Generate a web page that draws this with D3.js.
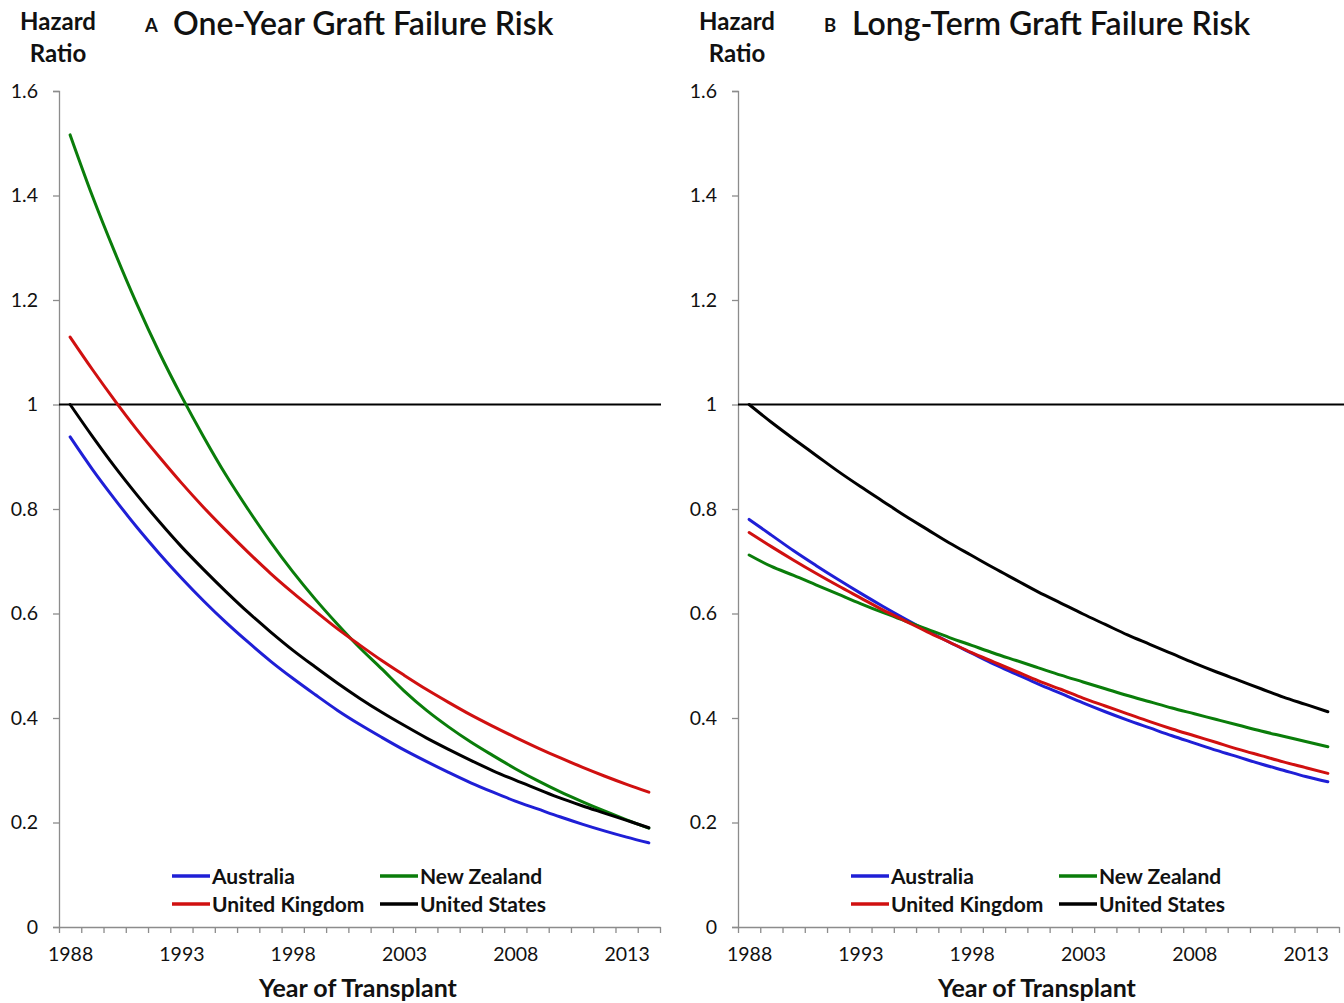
<!DOCTYPE html>
<html>
<head>
<meta charset="utf-8">
<script src="https://cdn.jsdelivr.net/npm/d3@7/dist/d3.min.js"></script>
<style>
  html, body { margin: 0; padding: 0; background: #fff; }
  svg { display: block; font-family: Lato, "Open Sans", sans-serif; }
</style>
</head>
<body>
<svg id="chart" width="1344" height="1003"></svg>
<script>
// ---------- data ----------
const years = d3.range(1988, 2015);
const yearLabels = [1988, 1993, 1998, 2003, 2008, 2013];
const yTicks = [0, 0.2, 0.4, 0.6, 0.8, 1, 1.2, 1.4, 1.6];
const countries = ["Australia", "New Zealand", "United Kingdom", "United States"];
const colors = ["#1f1fd6", "#0a7d0a", "#d01010", "#000000"];

// Panel A: one-year graft failure risk (hazard ratio)
const oneYearAustralia = [0.938, 0.876, 0.819, 0.765, 0.715, 0.668, 0.624, 0.583, 0.545, 0.509, 0.476, 0.445, 0.415, 0.388, 0.363, 0.339, 0.317, 0.296, 0.276, 0.258, 0.241, 0.226, 0.211, 0.197, 0.184, 0.172, 0.161];
const oneYearNewZealand = [1.516, 1.399, 1.292, 1.192, 1.100, 1.016, 0.938, 0.865, 0.799, 0.737, 0.680, 0.628, 0.580, 0.535, 0.494, 0.452, 0.415, 0.383, 0.354, 0.328, 0.303, 0.280, 0.259, 0.240, 0.222, 0.205, 0.189];
const oneYearUK = [1.129, 1.067, 1.008, 0.952, 0.900, 0.850, 0.803, 0.759, 0.717, 0.677, 0.640, 0.605, 0.571, 0.540, 0.510, 0.482, 0.455, 0.430, 0.406, 0.384, 0.363, 0.343, 0.324, 0.306, 0.289, 0.273, 0.258];
const oneYearUS = [1.000, 0.939, 0.881, 0.827, 0.776, 0.728, 0.684, 0.642, 0.602, 0.565, 0.530, 0.498, 0.467, 0.438, 0.411, 0.386, 0.362, 0.340, 0.319, 0.299, 0.281, 0.264, 0.247, 0.232, 0.218, 0.204, 0.190];

// Panel B: long-term graft failure risk (hazard ratio)
const longTermAustralia = [0.780, 0.750, 0.720, 0.692, 0.665, 0.639, 0.614, 0.590, 0.567, 0.545, 0.524, 0.503, 0.484, 0.465, 0.447, 0.429, 0.412, 0.396, 0.381, 0.366, 0.352, 0.338, 0.325, 0.312, 0.300, 0.288, 0.278];
const longTermNewZealand = [0.712, 0.690, 0.673, 0.655, 0.637, 0.619, 0.602, 0.586, 0.570, 0.554, 0.539, 0.524, 0.510, 0.496, 0.482, 0.469, 0.456, 0.443, 0.431, 0.419, 0.408, 0.397, 0.386, 0.375, 0.365, 0.355, 0.345];
const longTermUK = [0.755, 0.728, 0.702, 0.677, 0.653, 0.630, 0.607, 0.586, 0.565, 0.545, 0.525, 0.507, 0.489, 0.471, 0.455, 0.438, 0.423, 0.408, 0.393, 0.379, 0.366, 0.353, 0.340, 0.328, 0.316, 0.305, 0.294];
const longTermUS = [1.000, 0.966, 0.934, 0.903, 0.872, 0.843, 0.815, 0.787, 0.761, 0.735, 0.711, 0.687, 0.664, 0.641, 0.620, 0.599, 0.579, 0.559, 0.541, 0.523, 0.505, 0.488, 0.472, 0.456, 0.440, 0.426, 0.412];

const panels = [
  { letter: "A", title: "One-Year Graft Failure Risk", left: 59, series: [oneYearAustralia, oneYearNewZealand, oneYearUK, oneYearUS], refEnd: 661 },
  { letter: "B", title: "Long-Term Graft Failure Risk", left: 738, series: [longTermAustralia, longTermNewZealand, longTermUK, longTermUS], refEnd: 1344 }
];

// ---------- drawing ----------
const svg = d3.select("#chart");
const axisGray = "#8c8c8c";
const yScale = d3.scaleLinear().domain([0, 1.6]).range([927, 91]);

panels.forEach(p => {
  const width = 601;
  const x = d3.scaleLinear().domain([1987.5, 2014.5]).range([p.left, p.left + width]);
  const g = svg.append("g");

  // Y axis
  const yAxis = g.append("g")
    .attr("transform", `translate(${p.left},0)`)
    .call(d3.axisLeft(yScale).tickValues(yTicks).tickSize(6).tickPadding(15).tickFormat(d3.format("~g")));
  yAxis.select(".domain").attr("stroke", axisGray).attr("stroke-width", 1.3);
  yAxis.selectAll(".tick line").attr("stroke", axisGray).attr("stroke-width", 1.3);
  yAxis.selectAll(".tick text").attr("font-size", 19.5).attr("fill", "#111").attr("font-family", "Lato, sans-serif");

  // X axis ticks (between categories)
  const xTickVals = d3.range(1987.5, 2015, 1);
  const xAxis = g.append("g")
    .attr("transform", `translate(0,${yScale(0)})`)
    .call(d3.axisBottom(x).tickValues(xTickVals).tickSize(6).tickSizeOuter(0).tickFormat(""));
  xAxis.select(".domain").attr("stroke", axisGray).attr("stroke-width", 1.3);
  xAxis.selectAll(".tick line").attr("stroke", axisGray).attr("stroke-width", 1.3);

  // X labels
  const xLab = g.append("g")
    .attr("transform", `translate(0,${yScale(0)})`)
    .call(d3.axisBottom(x).tickValues(yearLabels).tickSize(0).tickPadding(20).tickFormat(d3.format("d")));
  xLab.select(".domain").remove();
  xLab.selectAll(".tick text").attr("font-size", 19.5).attr("fill", "#111").attr("font-family", "Lato, sans-serif");

  // Reference line at 1
  g.append("line")
    .attr("x1", p.left).attr("x2", p.refEnd)
    .attr("y1", yScale(1)).attr("y2", yScale(1))
    .attr("stroke", "#000").attr("stroke-width", 2);

  // Series lines
  const line = d3.line()
    .x((d, i) => x(years[i]))
    .y(d => yScale(d))
    .curve(d3.curveMonotoneX);
  p.series.forEach((s, k) => {
    g.append("path")
      .datum(s)
      .attr("d", line)
      .attr("fill", "none")
      .attr("stroke", colors[k])
      .attr("stroke-width", 3)
      .attr("stroke-linecap", "round")
      .attr("stroke-linejoin", "round");
  });

  // Hazard Ratio label
  const hr = g.append("text")
    .attr("text-anchor", "middle")
    .attr("font-size", 24).attr("font-weight", 700).attr("fill", "#111");
  hr.append("tspan").attr("x", p.left - 1).attr("y", 30).text("Hazard");
  hr.append("tspan").attr("x", p.left - 1).attr("y", 62).text("Ratio");

  // Title
  g.append("text")
    .attr("x", p.left + 86).attr("y", 32)
    .attr("font-size", 18.5).attr("font-weight", 700).attr("fill", "#111")
    .text(p.letter);
  g.append("text")
    .attr("x", p.left + 114).attr("y", 35)
    .attr("font-size", 32).attr("fill", "#111")
    .style("font-weight", 600)
    .text(p.title);

  // X axis title
  g.append("text")
    .attr("x", p.left + 299).attr("y", 997)
    .attr("text-anchor", "middle")
    .attr("font-size", 25).attr("font-weight", 700).attr("fill", "#111")
    .text("Year of Transplant");

  // Legend
  const legendPos = [[113, 876], [321, 876], [113, 904], [321, 904]];
  countries.forEach((c, k) => {
    const [dx, yy] = legendPos[k];
    g.append("line")
      .attr("x1", p.left + dx).attr("x2", p.left + dx + 38)
      .attr("y1", yy).attr("y2", yy)
      .attr("stroke", colors[k]).attr("stroke-width", 3.5);
    g.append("text")
      .attr("x", p.left + dx + 40).attr("y", yy + 7.5)
      .attr("font-size", 21).attr("font-weight", 700).attr("fill", "#111")
      .text(c);
  });
});
</script>
</body>
</html>
